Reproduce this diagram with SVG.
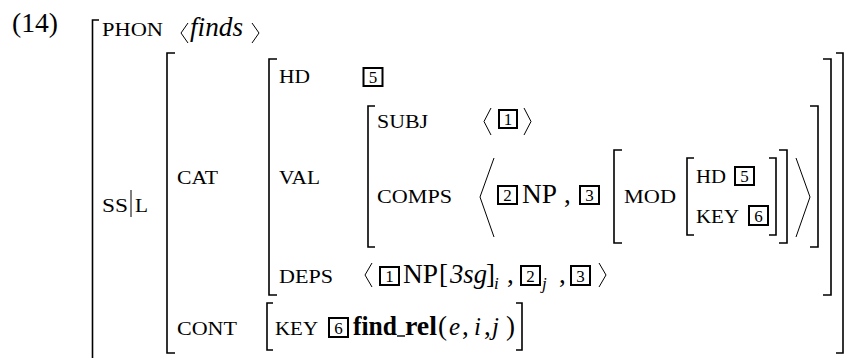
<svg xmlns="http://www.w3.org/2000/svg" width="848" height="358" viewBox="0 0 848 358" font-family="'Liberation Serif', 'Times New Roman', serif">
<style>
text{font-family:"Liberation Serif","Times New Roman","DejaVu Serif",serif;fill:#000}
.lbl{font-size:19px}
.rm{font-size:27px}
.mi{font-size:25px;font-style:italic}
.it{font-style:italic}
.bf{font-weight:bold}
.dg{font-size:17px;text-anchor:middle}
.sub{font-size:17px;font-style:italic}
.br{fill:none;stroke:#000;stroke-width:1.6}
.ang{fill:none;stroke:#000;stroke-width:1}
.tag{fill:none;stroke:#000;stroke-width:2}
</style>
<rect width="848" height="358" fill="#fff"/>
<text x="12" y="32" style="font-size:27px" textLength="46" lengthAdjust="spacingAndGlyphs">(14)</text>

<g id="brackets">
<path class="br" d="M99,20 H92.5 V362"/>
<path class="br" d="M175,53 H167 V353 H175"/>
<path class="br" d="M836,53 H843 V353 H836"/>
<path class="br" d="M277,59 H269 V295 H277"/>
<path class="br" d="M823,59 H831 V295 H823"/>
<path class="br" d="M375,106 H368 V247 H375"/>
<path class="br" d="M810,106 H818 V247 H810"/>
<path class="br" d="M622,150 H614 V243 H622"/>
<path class="br" d="M779,150 H787 V243 H779"/>
<path class="br" d="M694,158 H687 V235 H694"/>
<path class="br" d="M769,158 H776 V235 H769"/>
<path class="br" d="M273,303 H267 V350 H273"/>
<path class="br" d="M516,303 H522 V350 H516"/>
</g>

<g id="angles">
<path class="ang" d="M188,23 L181,33 L188,43"/>
<path class="ang" d="M252,23 L259,33 L252,43"/>
<path class="ang" d="M491,108 L484,121.5 L491,135"/>
<path class="ang" d="M524,108 L531,121.5 L524,135"/>
<path class="ang" d="M494,158 L480,197 L494,237"/>
<path class="ang" d="M796,158 L810,197 L796,237"/>
<path class="ang" d="M372,263 L365,275 L372,287"/>
<path class="ang" d="M599,263 L606,275 L599,287"/>
</g>

<g id="phon">
<text class="lbl" x="102" y="36" textLength="61" lengthAdjust="spacingAndGlyphs">PHON</text>
<text class="rm it" x="190" y="36" textLength="53" lengthAdjust="spacingAndGlyphs">finds</text>
</g>

<g id="ssl">
<text class="lbl" x="102" y="212" textLength="26" lengthAdjust="spacingAndGlyphs">SS</text>
<line x1="131" y1="190" x2="131" y2="217" stroke="#000" stroke-width="1"/>
<text class="lbl" x="135" y="212" textLength="13" lengthAdjust="spacingAndGlyphs">L</text>
</g>

<g id="cat">
<text class="lbl" x="177" y="184" textLength="41" lengthAdjust="spacingAndGlyphs">CAT</text>
<text class="lbl" x="279" y="83" textLength="31" lengthAdjust="spacingAndGlyphs">HD</text>
<rect class="tag" x="363.5" y="68" width="19" height="18"/>
<text class="dg" x="373" y="83">5</text>
<text class="lbl" x="279" y="184" textLength="41" lengthAdjust="spacingAndGlyphs">VAL</text>
</g>

<g id="val">
<text class="lbl" x="377" y="128" textLength="51" lengthAdjust="spacingAndGlyphs">SUBJ</text>
<rect class="tag" x="499" y="110" width="18" height="18"/>
<text class="dg" x="508" y="125">1</text>
<text class="lbl" x="377" y="203" textLength="75" lengthAdjust="spacingAndGlyphs">COMPS</text>
<rect class="tag" x="498" y="186" width="19" height="18"/>
<text class="dg" x="507.5" y="201">2</text>
<text class="rm" x="522" y="203" textLength="35" lengthAdjust="spacingAndGlyphs">NP</text>
<text class="rm" x="564" y="203">,</text>
<rect class="tag" x="580" y="186" width="19" height="18"/>
<text class="dg" x="589.5" y="201">3</text>
</g>

<g id="mod">
<text class="lbl" x="624" y="203" textLength="52" lengthAdjust="spacingAndGlyphs">MOD</text>
<text class="lbl" x="696" y="183" textLength="30" lengthAdjust="spacingAndGlyphs">HD</text>
<rect class="tag" x="735" y="167" width="19" height="18"/>
<text class="dg" x="744.5" y="182">5</text>
<text class="lbl" x="696" y="223" textLength="43" lengthAdjust="spacingAndGlyphs">KEY</text>
<rect class="tag" x="749" y="206" width="19" height="19"/>
<text class="dg" x="758.5" y="221.5">6</text>
</g>

<g id="deps">
<text class="lbl" x="279" y="283" textLength="54" lengthAdjust="spacingAndGlyphs">DEPS</text>
<rect class="tag" x="380" y="267" width="19" height="18"/>
<text class="dg" x="389.5" y="282">1</text>
<text class="rm" x="403" y="283" textLength="35" lengthAdjust="spacingAndGlyphs">NP</text>
<text class="rm" x="439" y="283">[</text>
<text class="rm it" x="450" y="283" textLength="37" lengthAdjust="spacingAndGlyphs">3sg</text>
<text class="rm" x="486" y="283">]</text>
<text class="sub" x="494" y="289">i</text>
<text class="rm" x="507" y="283">,</text>
<rect class="tag" x="521" y="266" width="19" height="19"/>
<text class="dg" x="530.5" y="281.5">2</text>
<text class="sub" x="542" y="289">j</text>
<text class="rm" x="559" y="283">,</text>
<rect class="tag" x="571" y="266" width="19" height="19"/>
<text class="dg" x="580.5" y="281.5">3</text>
</g>

<g id="cont">
<text class="lbl" x="177" y="335" textLength="60" lengthAdjust="spacingAndGlyphs">CONT</text>
<text class="lbl" x="275" y="335" textLength="43" lengthAdjust="spacingAndGlyphs">KEY</text>
<rect class="tag" x="329" y="318" width="19" height="19"/>
<text class="dg" x="338.5" y="333.5">6</text>
<text class="rm bf" x="353" y="335" textLength="44" lengthAdjust="spacingAndGlyphs">find</text>
<line x1="397" y1="336" x2="405" y2="336" stroke="#000" stroke-width="1.4"/>
<text class="rm bf" x="405" y="335" textLength="32" lengthAdjust="spacingAndGlyphs">rel</text>
<text class="rm" x="438" y="335">(</text>
<text class="mi" x="449" y="335">e</text>
<text class="rm" x="462" y="335">,</text>
<text class="mi" x="474" y="335">i</text>
<text class="rm" x="484" y="335">,</text>
<text class="mi" x="492" y="335">j</text>
<text class="rm" x="506" y="335">)</text>
</g>
</svg>
